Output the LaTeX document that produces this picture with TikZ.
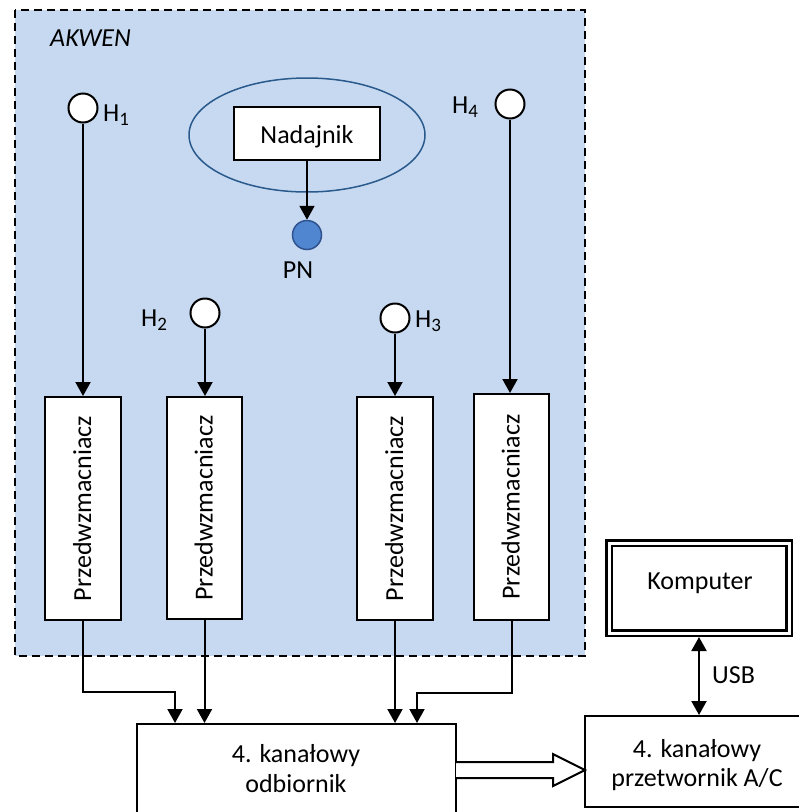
\documentclass[tikz,border=0pt]{standalone}
\usepackage{fontspec}
\setmainfont{Carlito}
\usetikzlibrary{arrows.meta}
\definecolor{akwen}{HTML}{C6D9F1}
\definecolor{ellc}{HTML}{2A5A8C}
\definecolor{pnfill}{HTML}{4F86CF}
\definecolor{pndraw}{HTML}{2F528F}
\newcommand\hsub[1]{\raisebox{-4pt}{\fontsize{19}{19}\selectfont #1}}
\newcommand\pretext{\rotatebox{90}{\raisebox{0pt}[16pt][0pt]{Przedwzmacniacz}}}
\begin{document}
\begin{tikzpicture}[x=1pt,y=-1pt,
  every node/.style={font=\fontsize{26}{31}\selectfont},
  areabox/.style={draw=black, line width=2pt, dash pattern=on 8pt off 5pt, fill=akwen},
  box/.style={draw, line width=2pt, fill=white, inner sep=0pt},
  hydro/.style={circle, draw, line width=2pt, fill=white, minimum size=29pt, inner sep=0pt},
  lbl/.style={inner sep=0pt, anchor=base west},
  txt/.style={inner sep=0pt, anchor=base},
  conn/.style={line width=2pt, -{Triangle[length=14pt,width=15pt]}},
  dconn/.style={line width=2pt, {Triangle[length=14pt,width=15pt]}-{Triangle[length=14pt,width=15pt]}},
  hollow/.style={line width=2pt, fill=white, line join=miter}]
\useasboundingbox (0,0) rectangle (799,812);
\fill[white] (0,0) rectangle (799,812);
% water area
\draw[areabox] (15,10) rectangle (585,656);
\node[lbl, font=\fontsize{26}{31}\selectfont\itshape] (akwen) at (50,46) {AKWEN};
% transmitter
\draw[ellc, line width=1.5pt] (307,135) ellipse [x radius=118pt, y radius=57pt];
\node[box, minimum width=146pt, minimum height=53pt, text height=19pt, text depth=0pt] (nad) at (307,133.5) {Nadajnik};
\node[circle, fill=pnfill, draw=pndraw, line width=1.5pt, minimum size=29pt, inner sep=0pt] (pn) at (307,235) {};
\node[txt] (pnl) at (298,278) {PN};
\draw[conn] (nad) -- (pn);
% hydrophones
\node[hydro] (h1) at (83,108) {};
\node[hydro] (h2) at (205,313) {};
\node[hydro] (h3) at (395,318) {};
\node[hydro] (h4) at (510,104) {};
\node[lbl] (h1l) at (103,121) {H\hsub{1}};
\node[lbl] (h2l) at (141,326) {H\hsub{2}};
\node[lbl] (h3l) at (415,327) {H\hsub{3}};
\node[lbl] (h4l) at (452,113) {H\hsub{4}};
% preamplifiers
\node[box, minimum width=76pt, minimum height=223pt] (p1) at (83,508.5) {\pretext};
\node[box, minimum width=75pt, minimum height=222pt] (p2) at (204.5,508) {\pretext};
\node[box, minimum width=76pt, minimum height=223pt] (p3) at (395,508.5) {\pretext};
\node[box, minimum width=75pt, minimum height=226pt] (p4) at (511.5,507) {\pretext};
\draw[conn] (h1) -- (h1 |- p1.north);
\draw[conn] (h2) -- (h2 |- p2.north);
\draw[conn] (h3) -- (h3 |- p3.north);
\draw[conn] (h4) -- (h4 |- p4.north);
% receiver
\node[box, minimum width=319pt, minimum height=110pt] (recv) at (296.5,779) {};
\node[txt] (recv1) at (296,762.5) {4. kanałowy};
\node[txt] (recv2) at (296,792) {odbiornik};
\coordinate (r1) at (175,723);
\coordinate (r4) at (417,723);
\draw[conn] (p1.south) -- ++(0,71) -| (r1);
\draw[conn] (p2) -- (p2 |- recv.north);
\draw[conn] (p3) -- (p3 |- recv.north);
\draw[conn] (p4.south) -- ++(0,72) -| (r4);
% A/C converter
\node[box, minimum width=224pt, minimum height=91pt] (ac) at (697,761.5) {};
\node[txt] (ac1) at (697,757) {4. kanałowy};
\node[txt] (ac2) at (697,786) {przetwornik A/C};
% computer
\node[draw, line width=2.5pt, double, double distance=3pt, minimum width=180pt, minimum height=90pt, outer sep=4pt, fill=white] (kom) at (699,588) {};
\node[txt] (koml) at (700,589) {Komputer};
\draw[dconn] (kom.south) -- (kom.south |- ac.north);
\node[lbl] (usb) at (712,683) {USB};
% wide data arrow
\coordinate (da) at (456,770);
\coordinate (db) at (585,770);
\draw[hollow] (da) ++(0,-8) -- ++(97,0) -- ++(0,-8) -- (db) -- ++(-32,16) -- ++(0,-8) -- ++(-97,0);
\end{tikzpicture}
\end{document}
